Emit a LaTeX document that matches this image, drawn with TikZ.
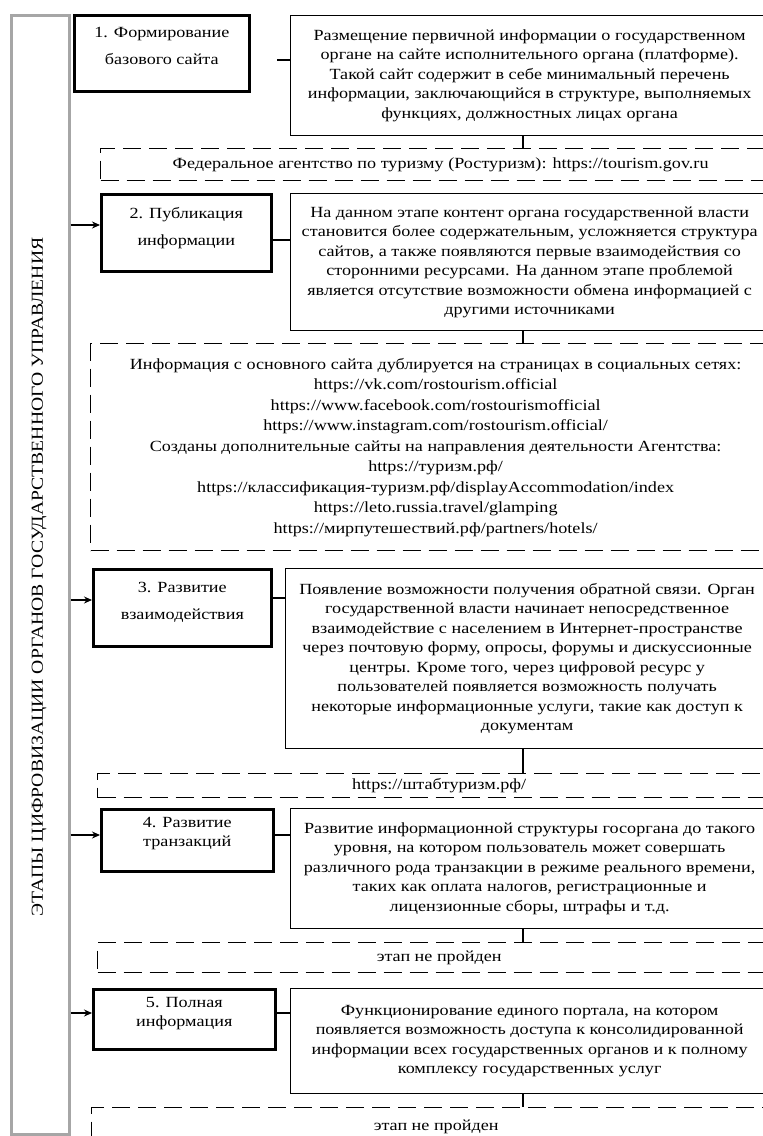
\documentclass[tikz,border=0pt]{standalone}
\usepackage{fontspec}
\setmainfont{Liberation Serif}[FakeStretch=1.17]
\usetikzlibrary{arrows.meta}
\newcommand\dfont{\fontsize{15.5}{19.5}\selectfont}
\newcommand\sfontA{\fontsize{15.5}{27}\selectfont}
\newcommand\sfontB{\fontsize{15.5}{19.5}\selectfont}
\begin{document}
\begin{tikzpicture}[x=1pt,y=-1pt,
  bandbox/.style={draw=gray!70, line width=2.6pt, anchor=north west, inner sep=0},
  stagebox/.style={draw, line width=2.6pt, anchor=north west, inner sep=0},
  descbox/.style={draw, line width=1.3pt, anchor=north west, inner sep=0, align=center, font=\dfont},
  dashbox/.style={draw, line width=1.3pt, dash pattern=on 18pt off 8pt, anchor=north west, inner sep=0, align=center, font=\dfont},
  stagetext/.style={anchor=north, align=center, inner sep=0},
  link/.style={line width=1.2pt},
  arr/.style={line width=1.2pt, -{Stealth[length=8pt,width=7pt]}}]
\useasboundingbox (0,0) rectangle (763,1136);
% left band
\node[bandbox, minimum width=58pt, minimum height=1119pt] (band) at (10,14) {};
\node[rotate=90, inner sep=0, font=\fontsize{16.8}{18}\selectfont] (title) at (39,577) {ЭТАПЫ ЦИФРОВИЗАЦИИ ОРГАНОВ ГОСУДАРСТВЕННОГО УПРАВЛЕНИЯ};
% stage boxes
\node[stagebox, minimum width=175pt, minimum height=76pt] (s1) at (73,14) {};
\node[stagebox, minimum width=170pt, minimum height=77pt] (s2) at (100,193) {};
\node[stagebox, minimum width=178pt, minimum height=77pt] (s3) at (92,568) {};
\node[stagebox, minimum width=172pt, minimum height=62pt] (s4) at (100,808) {};
\node[stagebox, minimum width=182pt, minimum height=60pt] (s5) at (92,988) {};
\node[stagetext, font=\sfontA] (t1) at ([yshift=-13pt]s1.north) {1. Формирование\\базового сайта};
\node[stagetext, font=\sfontA] (t2) at ([yshift=-14pt]s2.north) {2. Публикация\\информации};
\node[stagetext, font=\sfontA] (t3) at ([yshift=-14pt]s3.north) {3. Развитие\\взаимодействия};
\node[stagetext, font=\sfontB] (t4) at ([yshift=-9pt]s4.north) {4. Развитие\\транзакций};
\node[stagetext, font=\sfontB] (t5) at ([yshift=-9pt]s5.north) {5. Полная\\информация};
% description boxes
\node[descbox, minimum width=478pt, minimum height=120pt] (d1) at (290,15) {Размещение первичной информации о государственном\\органе на сайте исполнительного органа (платформе).\\Такой сайт содержит в себе минимальный перечень\\информации, заключающийся в структуре, выполняемых\\функциях, должностных лицах органа};
\node[descbox, minimum width=478pt, minimum height=137pt] (d2) at (290,193) {На данном этапе контент органа государственной власти\\становится более содержательным, усложняется структура\\сайтов, а также появляются первые взаимодействия со\\сторонними ресурсами. На данном этапе проблемой\\является отсутствие возможности обмена информацией с\\другими источниками};
\node[descbox, minimum width=483pt, minimum height=180pt] (d3) at (285,568) {Появление возможности получения обратной связи. Орган\\государственной власти начинает непосредственное\\взаимодействие с населением в Интернет-пространстве\\через почтовую форму, опросы, форумы и дискуссионные\\центры. Кроме того, через цифровой ресурс у\\пользователей появляется возможность получать\\некоторые информационные услуги, такие как доступ к\\документам};
\node[descbox, minimum width=478pt, minimum height=120pt] (d4) at (290,808) {Развитие информационной структуры госоргана до такого\\уровня, на котором пользователь может совершать\\различного рода транзакции в режиме реального времени,\\таких как оплата налогов, регистрационные и\\лицензионные сборы, штрафы и т.д.};
\node[descbox, minimum width=478pt, minimum height=105pt] (d5) at (290,988) {Функционирование единого портала, на котором\\появляется возможность доступа к консолидированной\\информации всех государственных органов и к полному\\комплексу государственных услуг};
% dashed boxes
\node[dashbox, minimum width=680pt, minimum height=32pt] (x1) at (100,148) {Федеральное агентство по туризму (Ростуризм): https://tourism.gov.ru};
\node[dashbox, minimum width=690pt, minimum height=207pt, font=\fontsize{15.5}{20.5}\selectfont] (x2) at (90,343) {Информация с основного сайта дублируется на страницах в социальных сетях:\\https://vk.com/rostourism.official\\https://www.facebook.com/rostourismofficial\\https://www.instagram.com/rostourism.official/\\Созданы дополнительные сайты на направления деятельности Агентства:\\https://туризм.рф/\\https://классификация-туризм.рф/displayAccommodation/index\\https://leto.russia.travel/glamping\\https://мирпутешествий.рф/partners/hotels/};
\node[dashbox, minimum width=683pt, minimum height=24pt] (x3) at (97,773) {https://штабтуризм.рф/};
\node[dashbox, minimum width=683pt, minimum height=30pt] (x4) at (97,942) {этап не пройден};
\node[dashbox, minimum width=689pt, minimum height=38pt] (x5) at (91,1107) {этап не пройден};
% connectors stage -> description
\draw[link] ([xshift=-13pt]d1.west |- 0,60) -- (d1.west |- 0,60);
\draw[link] (s2.east |- 0,240) -- (d2.west |- 0,240);
\draw[link] (s3.east |- 0,598) -- (d3.west |- 0,598);
\draw[link] (s4.east |- 0,835) -- (d4.west |- 0,835);
\draw[link] (s5.east |- 0,1013) -- (d5.west |- 0,1013);
% description -> dashed
\coordinate (vx) at (523,0);
\draw[link] (d1.south -| vx) -- (x1.north -| vx);
\draw[link] (d2.south -| vx) -- (x2.north -| vx);
\draw[link] (d3.south -| vx) -- (x3.north -| vx);
\draw[link] (d4.south -| vx) -- (x4.north -| vx);
\draw[link] (d5.south -| vx) -- (x5.north -| vx);
% arrows from band
\draw[arr] (band.east |- 0,225) -- (s2.west |- 0,225);
\draw[arr] (band.east |- 0,600) -- (s3.west |- 0,600);
\draw[arr] (band.east |- 0,835) -- (s4.west |- 0,835);
\draw[arr] (band.east |- 0,1013) -- (s5.west |- 0,1013);
\end{tikzpicture}
\end{document}
